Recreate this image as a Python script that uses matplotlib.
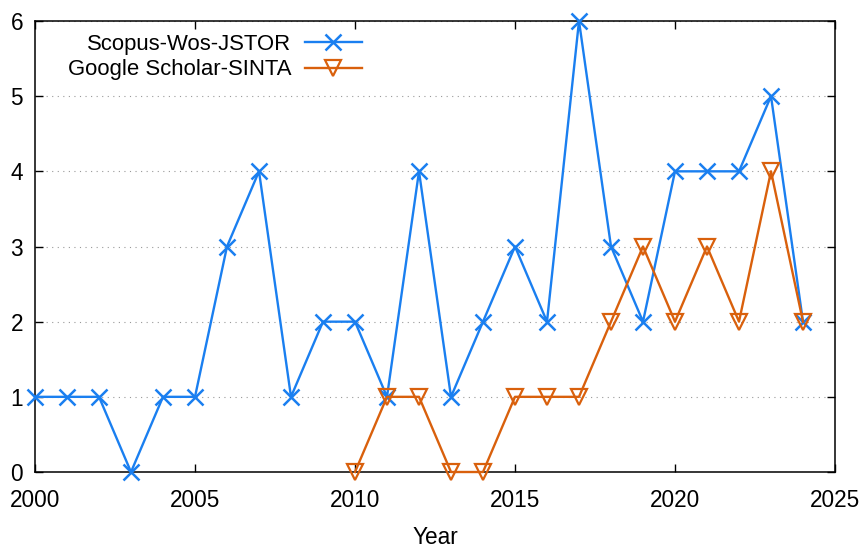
import matplotlib.pyplot as plt
import numpy as np

plt.rcParams['font.family'] = ['Liberation Sans', 'DejaVu Sans']
plt.rcParams['font.size'] = 16.3

# Publication counts per year
years_sw = list(range(2000, 2025))
scopus_wos_jstor = [1, 1, 1, 0, 1, 1, 3, 4, 1, 2, 2, 1, 4, 1, 2, 3, 2, 6, 3, 2, 4, 4, 4, 5, 2]

years_gs = list(range(2010, 2025))
google_sinta = [0, 1, 1, 0, 0, 1, 1, 1, 2, 3, 2, 3, 2, 4, 2]

blue = '#1a7ff0'
orange = '#d9600c'

fig = plt.figure(figsize=(8.62, 5.47), dpi=100)
ax = fig.add_axes([35/862, 1 - 472/547, 800/862, 451/547])

ax.plot(years_sw, scopus_wos_jstor, color=blue, linewidth=1.7, marker='x',
        markersize=11, markeredgewidth=1.8, label='Scopus-Wos-JSTOR',
        clip_on=False, zorder=5)
ax.plot(years_gs, google_sinta, color=orange, linewidth=1.7, marker='v',
        markersize=12, markeredgewidth=1.6, markerfacecolor='none',
        label='Google Scholar-SINTA', clip_on=False, zorder=6)

ax.set_xlim(2000, 2025)
ax.set_ylim(0, 6)
ax.set_xticks([2000, 2005, 2010, 2015, 2020, 2025])
ax.set_yticks([0, 1, 2, 3, 4, 5, 6])
ax.tick_params(direction='in', length=6, width=1, top=True, right=True)
ax.tick_params(axis='x', pad=12.5)
ax.tick_params(axis='y', pad=8.5)
for s in ax.spines.values():
    s.set_linewidth(1.1)
ax.yaxis.grid(True, linestyle=(0, (1, 4)), color='#999999', linewidth=0.8)
ax.set_xlabel('Year', labelpad=9.5)

leg = ax.legend(loc='upper right', bbox_to_anchor=(362/862, 1 - 34/547),
                bbox_transform=fig.transFigure, frameon=False, markerfirst=False,
                handlelength=2.6, handletextpad=0.6, labelspacing=0.2,
                borderpad=0, borderaxespad=0, fontsize=15.9)

fig.savefig('out.png', dpi=100)
